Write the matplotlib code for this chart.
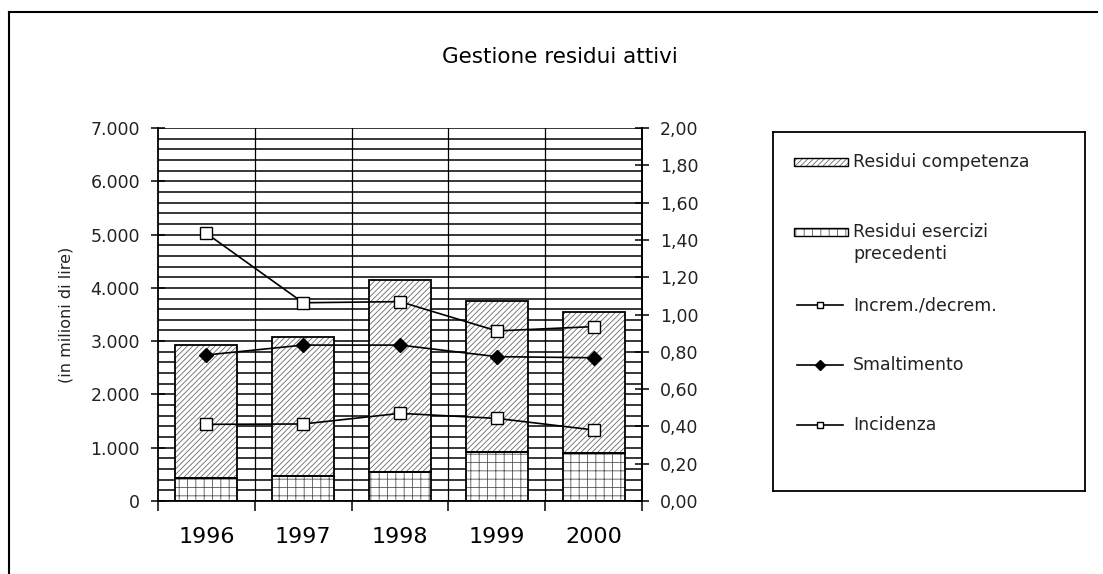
import matplotlib
matplotlib.use("Agg")
import matplotlib.pyplot as plt
from matplotlib.patches import Rectangle
from matplotlib.ticker import FuncFormatter, MultipleLocator, FixedLocator
import numpy as np

# Dati (importi in milioni di lire, indici sull'asse destro)
anni = ["1996", "1997", "1998", "1999", "2000"]
residui_precedenti = [430, 470, 550, 920, 910]
residui_competenza = [2500, 2600, 3600, 2840, 2630]
increm_decrem = [1.435, 1.063, 1.069, 0.912, 0.935]
smaltimento = [0.783, 0.836, 0.836, 0.774, 0.768]
incidenza = [0.411, 0.413, 0.470, 0.443, 0.381]

W, H = 1103, 574
plt.rcParams["font.family"] = ["DejaVu Sans"]
plt.rcParams["hatch.linewidth"] = 0.6

fig = plt.figure(figsize=(W / 100, H / 100), dpi=100)
fig.patch.set_facecolor("white")

# Cornice esterna del grafico (coordinate in pixel)
bg = fig.add_axes([0, 0, 1, 1], zorder=-10)
bg.set_xlim(0, W)
bg.set_ylim(H, 0)
bg.axis("off")
bg.plot([9, 9], [12, H + 5], color="black", lw=1.5)
bg.plot([9, 1097], [12, 12], color="black", lw=1.5)

# Area del tracciato
x0, x1, ytop, ybot = 158, 642, 128, 501
ax = fig.add_axes([x0 / W, 1 - ybot / H, (x1 - x0) / W, (ybot - ytop) / H])
ax.set_facecolor("white")
x = np.arange(len(anni))
ax.set_xlim(-0.5, len(anni) - 0.5)
ax.set_ylim(0, 7000)

# Griglia orizzontale fitta e verticale tra le categorie
for v in np.arange(0, 7001, 200):
    ax.axhline(v, color="black", lw=1.1, zorder=0)
for b in np.arange(0.5, len(anni) - 0.5, 1.0):
    ax.axvline(b, color="black", lw=0.9, zorder=0)

bw = 0.64
comp_hatch = "//////"
prec_hatch = "++"
# Riempimento tratteggiato
ax.bar(x, residui_precedenti, width=bw, color="white", edgecolor="#555555",
       hatch=prec_hatch, lw=0, zorder=2)
ax.bar(x, residui_competenza, width=bw, bottom=residui_precedenti, color="white",
       edgecolor="#6a6a6a", hatch=comp_hatch, lw=0, zorder=2)
# Contorni neri delle barre
ax.bar(x, residui_precedenti, width=bw, fill=False, edgecolor="black", lw=1.3, zorder=3)
ax.bar(x, residui_competenza, width=bw, bottom=residui_precedenti, fill=False,
       edgecolor="black", lw=1.3, zorder=3)

ax.yaxis.set_major_locator(MultipleLocator(1000))
ax.yaxis.set_major_formatter(FuncFormatter(lambda v, p: f"{v:,.0f}".replace(",", ".")))
ax.xaxis.set_major_locator(FixedLocator(x))
ax.set_xticklabels(anni)
ax.xaxis.set_minor_locator(FixedLocator(np.arange(-0.5, len(anni), 1.0)))
ax.tick_params(axis="x", which="major", length=0, pad=19, labelsize=16)
ax.tick_params(axis="x", which="minor", length=7, width=1.1, direction="out")
ax.tick_params(axis="y", which="major", length=10, width=1.1, direction="inout",
               labelsize=12.5, labelcolor="#222222", pad=8)
ax.spines["top"].set_visible(False)
for s in ["left", "bottom", "right"]:
    ax.spines[s].set_linewidth(1.3)
ax.set_ylabel("(in milioni di lire)", fontsize=11.5, labelpad=12, color="#222222")

# Asse secondario con gli indici
ax2 = ax.twinx()
ax2.set_ylim(0, 2)
ax2.yaxis.set_major_locator(MultipleLocator(0.2))
ax2.yaxis.set_major_formatter(FuncFormatter(lambda v, p: f"{v:.2f}".replace(".", ",")))
ax2.tick_params(axis="y", length=10, width=1.1, direction="inout",
                labelsize=12.5, labelcolor="#222222", pad=8)
for s in ["top", "left", "bottom"]:
    ax2.spines[s].set_visible(False)
ax2.spines["right"].set_linewidth(1.3)

ax2.plot(x, increm_decrem, color="black", lw=1.2, marker="s", ms=8,
         mfc="white", mec="black", mew=1.0, zorder=5)
ax2.plot(x, smaltimento, color="black", lw=1.2, marker="D", ms=7,
         mfc="black", mec="black", zorder=5)
ax2.plot(x, incidenza, color="black", lw=1.2, marker="s", ms=8,
         mfc="white", mec="black", mew=1.0, zorder=5)

fig.text(560 / W, 1 - 57 / H, "Gestione residui attivi", ha="center", va="center",
         fontsize=15.5, color="black")

# Legenda (riquadro a destra, coordinate in pixel)
lx0, lx1, ly0, ly1 = 773, 1085, 132, 491
lax = fig.add_axes([lx0 / W, 1 - ly1 / H, (lx1 - lx0) / W, (ly1 - ly0) / H])
lax.set_xlim(lx0, lx1)
lax.set_ylim(ly1, ly0)
lax.set_xticks([])
lax.set_yticks([])
for s in lax.spines.values():
    s.set_linewidth(1.3)
lfs = 12.5
tx = 853
lax.add_patch(Rectangle((794, 158), 54, 8, facecolor="white", edgecolor="#6a6a6a",
                        hatch=comp_hatch, lw=0))
lax.add_patch(Rectangle((794, 158), 54, 8, fill=False, edgecolor="black", lw=1.0))
lax.text(tx, 162, "Residui competenza", va="center", ha="left", fontsize=lfs, color="#222222")
lax.add_patch(Rectangle((794, 228), 54, 8, facecolor="white", edgecolor="#555555",
                        hatch=prec_hatch, lw=0))
lax.add_patch(Rectangle((794, 228), 54, 8, fill=False, edgecolor="black", lw=1.0))
lax.text(tx, 243, "Residui esercizi\nprecedenti", va="center", ha="left",
         fontsize=lfs, color="#222222", linespacing=1.25)
for yy, lab, mk, fc in [(305, "Increm./decrem.", "s", "white"),
                        (365, "Smaltimento", "D", "black"),
                        (425, "Incidenza", "s", "white")]:
    lax.plot([797, 843], [yy, yy], color="black", lw=1.2)
    lax.plot([820], [yy], marker=mk, ms=5, mfc=fc, mec="black", mew=1.0)
    lax.text(tx, yy, lab, va="center", ha="left", fontsize=lfs, color="#222222")

fig.savefig("out.png", dpi=100, facecolor="white")
